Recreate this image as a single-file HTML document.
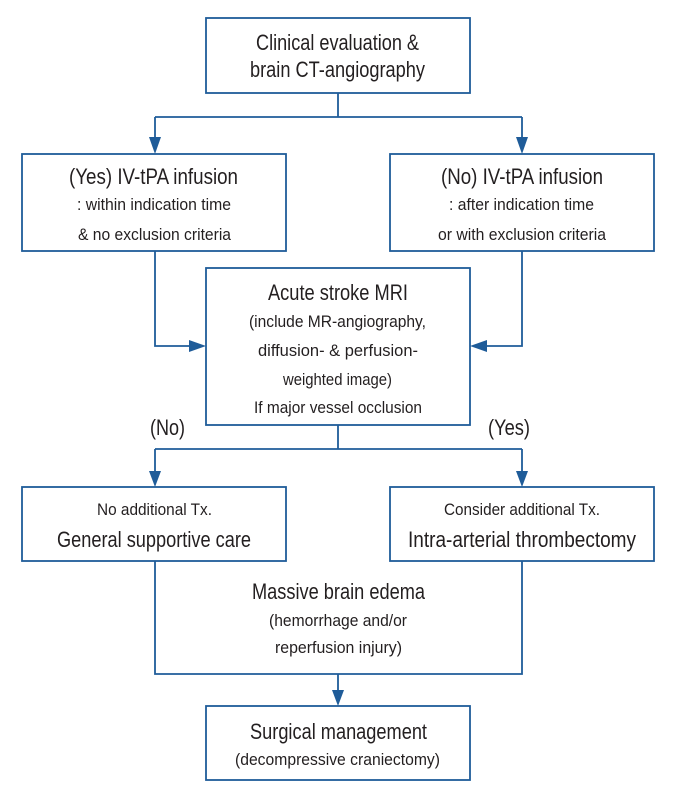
<!DOCTYPE html>
<html><head><meta charset="utf-8"><style>
html,body{margin:0;padding:0;background:#fff;}
svg{display:block}
text{font-family:"Liberation Sans",sans-serif;fill:#231f20;text-anchor:start}
.b{font-size:22px}.s{font-size:17px}
</style></head><body>
<svg width="674" height="800" viewBox="0 0 674 800" xmlns="http://www.w3.org/2000/svg">
<g fill="none" stroke="#1f5c99" stroke-width="1.8">
<rect x="206" y="18" width="264" height="75"/>
<rect x="22" y="154" width="264" height="97"/>
<rect x="390" y="154" width="264" height="97"/>
<rect x="206" y="268" width="264" height="157"/>
<rect x="22" y="487" width="264" height="74"/>
<rect x="390" y="487" width="264" height="74"/>
<rect x="206" y="706" width="264" height="74"/>
<path d="M338,93V117M155,117H522M155,117V140M522,117V140"/>
<path d="M155,251V346H192M522,251V346H484"/>
<path d="M338,425V449M155,449H522M155,449V474M522,449V474"/>
<path d="M155,561V674H522V561M338,674V694"/>
</g>
<g fill="#1f5c99">
<polygon points="149,137 161,137 155,154"/>
<polygon points="516,137 528,137 522,154"/>
<polygon points="189,340 189,352 206,346"/>
<polygon points="487,340 487,352 470,346"/>
<polygon points="149,471 161,471 155,487"/>
<polygon points="516,471 528,471 522,487"/>
<polygon points="332,690 344,690 338,706"/>
</g>
<text class="b" x="256" y="50" textLength="163" lengthAdjust="spacingAndGlyphs">Clinical evaluation &amp;</text>
<text class="b" x="250" y="77" textLength="175" lengthAdjust="spacingAndGlyphs">brain CT-angiography</text>
<text class="b" x="69" y="184" textLength="169" lengthAdjust="spacingAndGlyphs">(Yes) IV-tPA infusion</text>
<text class="s" x="77" y="210" textLength="154" lengthAdjust="spacingAndGlyphs">: within indication time</text>
<text class="s" x="78" y="240" textLength="153" lengthAdjust="spacingAndGlyphs">&amp; no exclusion criteria</text>
<text class="b" x="441" y="184" textLength="162" lengthAdjust="spacingAndGlyphs">(No) IV-tPA infusion</text>
<text class="s" x="449" y="210" textLength="145" lengthAdjust="spacingAndGlyphs">: after indication time</text>
<text class="s" x="438" y="240" textLength="168" lengthAdjust="spacingAndGlyphs">or with exclusion criteria</text>
<text class="b" x="268" y="300" textLength="140" lengthAdjust="spacingAndGlyphs">Acute stroke MRI</text>
<text class="s" x="249" y="327" textLength="177" lengthAdjust="spacingAndGlyphs">(include MR-angiography,</text>
<text class="s" x="258" y="356" textLength="160" lengthAdjust="spacingAndGlyphs">diffusion- &amp; perfusion-</text>
<text class="s" x="283" y="385" textLength="109" lengthAdjust="spacingAndGlyphs">weighted image)</text>
<text class="s" x="254" y="413" textLength="168" lengthAdjust="spacingAndGlyphs">If major vessel occlusion</text>
<text class="b" x="150" y="435" textLength="35" lengthAdjust="spacingAndGlyphs">(No)</text>
<text class="b" x="488" y="435" textLength="42" lengthAdjust="spacingAndGlyphs">(Yes)</text>
<text class="s" x="97" y="515" textLength="115" lengthAdjust="spacingAndGlyphs">No additional Tx.</text>
<text class="b" x="57" y="547" textLength="194" lengthAdjust="spacingAndGlyphs">General supportive care</text>
<text class="s" x="444" y="515" textLength="156" lengthAdjust="spacingAndGlyphs">Consider additional Tx.</text>
<text class="b" x="408" y="547" textLength="228" lengthAdjust="spacingAndGlyphs">Intra-arterial thrombectomy</text>
<text class="b" x="252" y="599" textLength="173" lengthAdjust="spacingAndGlyphs">Massive brain edema</text>
<text class="s" x="269" y="626" textLength="138" lengthAdjust="spacingAndGlyphs">(hemorrhage and/or</text>
<text class="s" x="275" y="653" textLength="127" lengthAdjust="spacingAndGlyphs">reperfusion injury)</text>
<text class="b" x="250" y="739" textLength="177" lengthAdjust="spacingAndGlyphs">Surgical management</text>
<text class="s" x="235" y="765" textLength="205" lengthAdjust="spacingAndGlyphs">(decompressive craniectomy)</text>
</svg>
</body></html>
